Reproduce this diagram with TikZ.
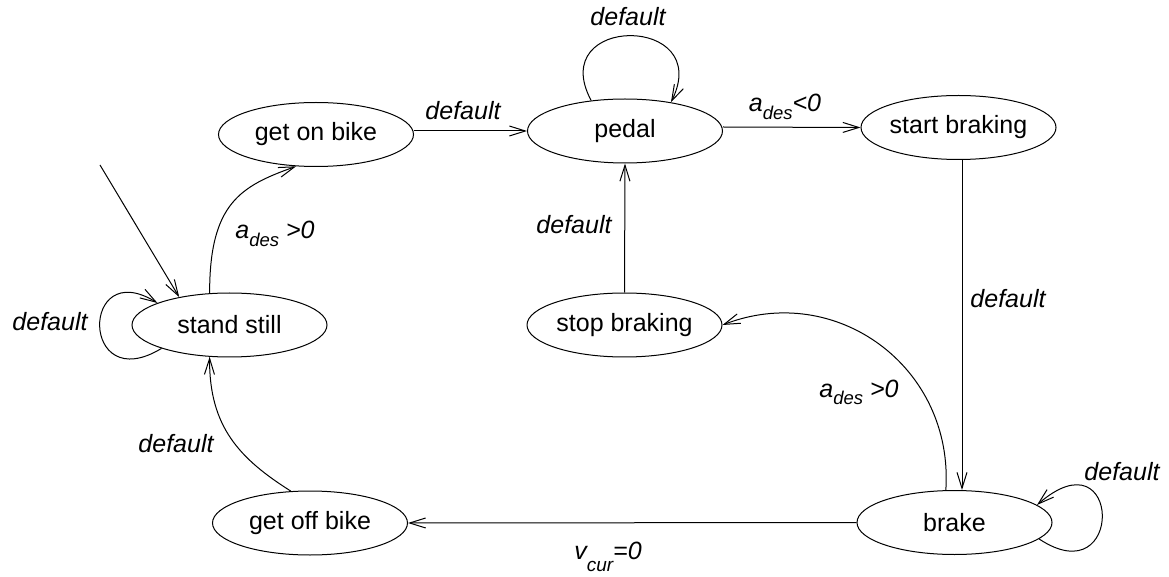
\documentclass[tikz,border=0pt]{standalone}
\usepackage{fontspec}
\setmainfont{Liberation Sans}
\usetikzlibrary{arrows.meta,shapes.geometric}
\newcommand{\lsub}[1]{\raisebox{-8pt}{\fontsize{18.5}{20}\selectfont #1}}
\newcommand{\lsubb}[1]{\raisebox{-12pt}{\fontsize{19}{20}\selectfont #1}}
\begin{document}
\begin{tikzpicture}[x=1pt,y=1pt,
  state/.style={ellipse,draw,line width=1pt,minimum width=195pt,minimum height=64pt,inner sep=0pt,font=\fontsize{25}{30}\selectfont},
  lbl/.style={font=\fontsize{25}{30}\selectfont\itshape,anchor=base,inner sep=0pt},
  conn/.style={line width=1pt,-{Straight Barb[length=16pt,width=10pt,line width=1pt]}}]
\useasboundingbox (0,0) rectangle (1169,576);
% states
\node[state] (gon) at (316,441.5) {get on bike};
\node[state] (pedal) at (625,445) {pedal};
\node[state] (sbr) at (958.5,448.5) {start braking};
\node[state] (stb) at (624.5,251) {stop braking};
\node[state] (ss) at (229.5,251) {stand still};
\node[state] (goff) at (310,53) {get off bike};
\node[state] (brake) at (954.5,53.5) {brake};
\coordinate (init) at (100,411);
% transitions
\draw[conn] (init) -- (ss.151);
\draw[conn] (ss.199) .. controls (80,178) and (80,321) .. (ss.163);
\draw[conn] (ss.122.6) .. controls (209.5,373) and (241,390) .. (gon.238);
\draw[conn] ([yshift=3.5pt]gon.east) -- (pedal.west);
\draw[conn] (pedal.138) .. controls (545,562) and (715,562) .. (pedal.32);
\draw[conn] ([yshift=4pt]pedal.east) -- (sbr.west);
\draw[conn] ([xshift=3.5pt]sbr.south) -- ([xshift=7.5pt]brake.north);
\draw[conn] (stb.north) -- (pedal.south);
\draw[conn] (brake.105) .. controls (954,209) and (836,295) .. (stb.east);
\draw[conn] (brake.west) -- (goff.east);
\draw[conn] (brake.349) .. controls (1125,-20) and (1122,145) .. (brake.12);
\draw[conn] (goff.121) .. controls (240,117) and (209,149) .. (ss.238);
% labels
\node[lbl] (l1) at (628,550) {default};
\node[lbl] (l2) at (463,456) {default};
\node[lbl] (l3) at (785,464) {a\lsub{des}<0};
\node[lbl] (l4) at (50,245) {default};
\node[lbl] (l5) at (275,337) {a\lsub{des} >0};
\node[lbl] (l6) at (574,342) {default};
\node[lbl] (l7) at (1008,268) {default};
\node[lbl] (l8) at (859,179) {a\lsub{des} >0};
\node[lbl] (l9) at (1122,96) {default};
\node[lbl] (l10) at (608,17) {v\lsubb{cur}=0};
\node[lbl] (l11) at (176,124) {default};
\end{tikzpicture}
\end{document}
